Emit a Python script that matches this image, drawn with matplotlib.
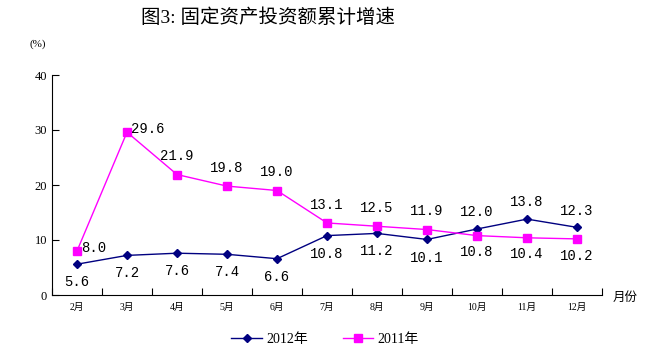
import matplotlib.pyplot as plt

plt.rcParams['font.family'] = ['Liberation Serif', 'Noto Sans CJK SC', 'DejaVu Sans']

# ── Data ──────────────────────────────────────────────────────────────────────
months = ["2月", "3月", "4月", "5月", "6月", "7月", "8月", "9月", "10月", "11月", "12月"]
g2012 = [5.6, 7.2, 7.6, 7.4, 6.6, 10.8, 11.2, 10.1, 12.0, 13.8, 12.3]
g2011 = [8.0, 29.6, 21.9, 19.8, 19.0, 13.1, 12.5, 11.9, 10.8, 10.4, 10.2]

# label placement: True = above the point
above2012 = [False] * 8 + [True] * 3
above2011 = [True] * 8 + [False] * 3

fig = plt.figure(figsize=(6.51, 3.58), dpi=100)
ax = fig.add_axes([52 / 651, 1 - 295 / 358, 550 / 651, 220 / 358])

x = list(range(len(months)))
ax.plot(x, g2012, color="#000080", lw=1, marker="D", ms=4, label="2012年")
ax.plot(x, g2011, color="#FF00FF", lw=1, marker="s", ms=6, label="2011年")

# ── Data labels ───────────────────────────────────────────────────────────────
lab = dict(fontsize=10, family=["Liberation Mono", "DejaVu Sans Mono"])
for i, v in enumerate(g2012):
    dy = 12 if above2012[i] else -13
    ax.annotate(f"{v:.1f}", (i, v), xytext=(0, dy), textcoords="offset points",
                ha="center", va="center", **lab)
for i, v in enumerate(g2011):
    if i < 2:
        ax.annotate(f"{v:.1f}", (i, v), xytext=(3, 2), textcoords="offset points",
                    ha="left", va="center", **lab)
        continue
    dy = 13 if above2011[i] else -12
    ax.annotate(f"{v:.1f}", (i, v), xytext=(0, dy), textcoords="offset points",
                ha="center", va="center", **lab)

# ── Axes styling ──────────────────────────────────────────────────────────────
ax.set_xlim(-0.5, len(months) - 0.5)
ax.set_ylim(0, 40)
ax.set_yticks([0, 10, 20, 30, 40])
ax.set_xticks([i - 0.5 for i in range(len(months) + 1)])
ax.set_xticklabels([])
ax.set_xticks(x, minor=True)
ax.set_xticklabels(months, minor=True, fontsize=7)
ax.tick_params(axis="x", which="minor", length=0, pad=6)
ax.tick_params(axis="x", which="major", direction="in", length=5)
ax.tick_params(axis="y", direction="in", length=5, labelsize=9)
ax.spines["top"].set_visible(False)
ax.spines["right"].set_visible(False)

fig.text(30 / 651, 1 - 44 / 358, "(%)", fontsize=8, ha="left", va="center")
fig.text(613 / 651, 1 - 298 / 358, "月份", fontsize=9, ha="left", va="center")
fig.text(268 / 651, 1 - 18 / 358, "图3: 固定资产投资额累计增速", ha="center",
         va="center", fontsize=14)

ax.legend(loc="center", bbox_to_anchor=(325 / 651, 1 - 339 / 358),
          bbox_transform=fig.transFigure, ncol=2, frameon=False, fontsize=10,
          handlelength=2.2, columnspacing=2.5, handletextpad=0.3)

fig.savefig("out.png", dpi=100)
